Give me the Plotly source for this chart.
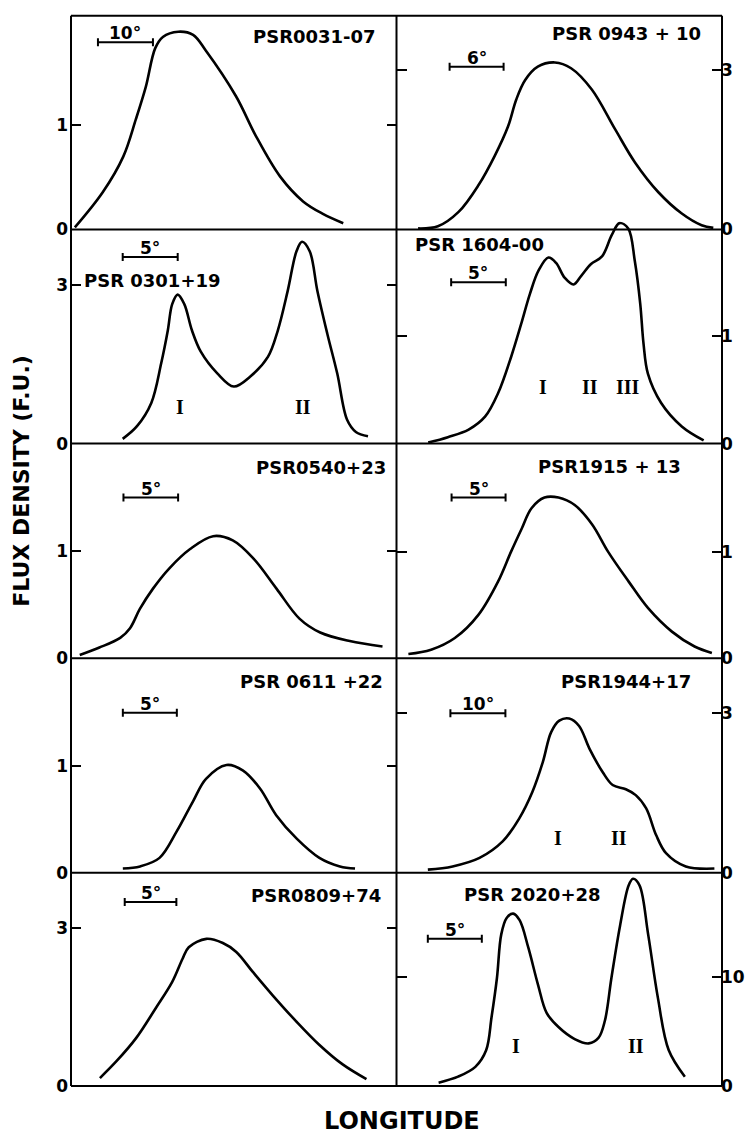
import plotly.graph_objects as go

# ---------------- data (longitude in degrees, flux density in F.U.) ----------------
names = ["PSR0031-07", "PSR 0943 + 10", "PSR 0301+19", "PSR 1604-00", "PSR0540+23",
         "PSR1915 + 13", "PSR 0611 +22", "PSR1944+17", "PSR0809+74", "PSR 2020+28"]

lon_0031 = [0.7, 5.8, 9.5, 11.8, 13.6, 15.3, 16.7, 19.5, 22.2, 24.5, 30.0, 33.6, 38.0, 42.2, 45.8, 49.5]
flux_0031 = [0.02, 0.36, 0.70, 1.06, 1.37, 1.74, 1.85, 1.90, 1.87, 1.72, 1.28, 0.90, 0.51, 0.27, 0.15, 0.06]

lon_0943 = [2.4, 4.6, 6.9, 9.1, 10.9, 12.4, 13.3, 14.3, 15.7, 17.6, 19.4, 21.7, 24.3, 26.5, 29.1, 31.7, 33.9, 35.2]
flux_0943 = [0.02, 0.06, 0.33, 0.83, 1.38, 1.94, 2.44, 2.81, 3.06, 3.14, 3.03, 2.63, 1.88, 1.26, 0.70, 0.30, 0.08, 0.03]

lon_0301 = [4.7, 6.0, 7.3, 8.2, 8.8, 9.2, 9.7, 10.3, 11.0, 11.8, 13.3, 14.8, 16.3, 17.9, 18.8, 19.7,
            20.5, 21.0, 21.7, 22.4, 23.3, 24.2, 25.1, 25.9, 27.0]
flux_0301 = [0.09, 0.33, 0.77, 1.52, 2.14, 2.64, 2.82, 2.64, 2.14, 1.74, 1.33, 1.08, 1.27, 1.64, 2.14, 2.89,
             3.64, 3.82, 3.64, 2.89, 2.08, 1.33, 0.45, 0.22, 0.14]

lon_1604 = [2.9, 4.7, 6.6, 8.1, 9.3, 10.5, 11.4, 12.2, 13.0, 13.9, 14.6, 15.4, 16.2, 16.9, 17.8, 18.8,
            19.7, 20.4, 21.2, 21.8, 22.3, 22.6, 23.0, 24.2, 26.1, 28.1]
flux_1604 = [0.01, 0.06, 0.13, 0.25, 0.47, 0.81, 1.11, 1.39, 1.61, 1.73, 1.68, 1.54, 1.48, 1.56, 1.67, 1.74,
             1.94, 2.05, 2.00, 1.70, 1.30, 0.93, 0.65, 0.38, 0.16, 0.03]

lon_0540 = [0.8, 2.6, 4.5, 5.4, 6.3, 7.5, 9.0, 10.9, 13.0, 14.8, 16.7, 18.8, 20.9, 22.8, 25.5, 28.5]
flux_0540 = [0.03, 0.10, 0.19, 0.28, 0.46, 0.65, 0.84, 1.02, 1.14, 1.10, 0.93, 0.65, 0.37, 0.24, 0.16, 0.11]

lon_1915 = [1.1, 3.2, 5.4, 7.6, 9.4, 10.6, 11.6, 12.5, 13.7, 15.0, 16.5, 18.1, 19.6, 21.5, 23.3, 25.5, 27.6, 29.2]
flux_1915 = [0.04, 0.08, 0.19, 0.41, 0.72, 1.00, 1.22, 1.41, 1.51, 1.51, 1.44, 1.26, 1.00, 0.72, 0.47, 0.25, 0.11, 0.05]

lon_0611 = [4.8, 6.4, 8.2, 9.8, 11.3, 12.5, 14.4, 15.9, 17.5, 19.0, 20.9, 23.0, 24.9, 26.3]
flux_0611 = [0.04, 0.06, 0.14, 0.39, 0.67, 0.88, 1.01, 0.96, 0.79, 0.54, 0.32, 0.14, 0.06, 0.04]

lon_1944 = [5.7, 10.2, 15.1, 19.3, 22.3, 24.7, 26.6, 28.1, 29.6, 31.4, 33.2, 35.1, 37.5, 39.3, 41.7, 43.5,
            45.4, 47.2, 49.0, 52.6, 57.8]
flux_1944 = [0.06, 0.12, 0.28, 0.59, 1.02, 1.52, 2.08, 2.64, 2.86, 2.90, 2.76, 2.33, 1.89, 1.65, 1.57, 1.46,
             1.21, 0.71, 0.37, 0.12, 0.08]

lon_0809 = [2.8, 4.4, 6.3, 8.2, 9.8, 10.8, 11.4, 13.1, 14.7, 16.0, 17.6, 19.5, 21.8, 24.0, 26.3, 28.6]
flux_0809 = [0.15, 0.47, 0.91, 1.48, 1.98, 2.42, 2.64, 2.80, 2.72, 2.55, 2.17, 1.73, 1.23, 0.79, 0.41, 0.13]

lon_2020 = [3.9, 5.7, 7.3, 8.3, 8.8, 9.3, 9.7, 10.2, 10.8, 11.4, 12.2, 13.1, 13.9, 15.0, 16.5, 17.8,
            18.7, 19.3, 19.9, 20.7, 21.5, 21.9, 22.5, 23.3, 24.2, 25.2, 26.7]
flux_2020 = [0.30, 0.85, 1.75, 3.27, 6.3, 9.9, 13.9, 15.4, 15.8, 15.2, 12.7, 9.3, 6.7, 5.4, 4.3, 3.9,
             4.4, 6.0, 9.9, 14.7, 18.4, 19.0, 18.4, 13.9, 8.1, 3.3, 0.85]

lons = [lon_0031, lon_0943, lon_0301, lon_1604, lon_0540, lon_1915, lon_0611, lon_1944, lon_0809, lon_2020]
fluxes = [flux_0031, flux_0943, flux_0301, flux_1604, flux_0540, flux_1915, flux_0611, flux_1944, flux_0809, flux_2020]

tick_values = [[0, 1], [0, 3], [0, 3], [0, 1], [0, 1], [0, 1], [0, 1], [0, 3], [0, 3], [0, 10]]
scale_deg = [10, 6, 5, 5, 5, 5, 5, 10, 5, 5]
components = [[], [], ["I", "II"], ["I", "II", "III"], [], [], [], ["I", "II"], [], ["I", "II"]]
component_lon = [[], [], [9.9, 21.1], [13.4, 17.7, 21.2], [], [], [], [29.3, 40.5], [], [11.1, 22.2]]
component_flux = [[], [], [0.70, 0.70], [0.53, 0.53, 0.53], [], [], [], [0.65, 0.65], [], [3.7, 3.7]]

# ---------------- layout geometry ----------------
W, H = 751, 1146
ROWS = [16, 231.5, 447.5, 664, 880.5, 1095.5]
COLS = [71, 396.5, 722]
EXT = 8  # allow curves to poke slightly above their box
px_per_deg = [5.5, 9, 11, 10.93, 10.93, 10.8, 10.8, 5.5, 10.33, 10.8]
px_per_unit = [105, 53.67, 53.3, 108.5, 108, 107.3, 107.7, 53.67, 53, 11]
bar_start = [4.9, 5.9, 4.7, 5.0, 4.8, 5.1, 4.8, 9.8, 5.2, 2.9]
bar_level = [1.80, 3.06, 3.53, 1.50, 1.50, 1.51, 1.50, 3.0, 3.50, 13.5]
# title placement (pixel x, pixel y, anchor)
title_pos = [(378, 37, "right"), (703, 34, "right"), (82, 283, "left"), (413, 247, "left"),
             (388, 472, "right"), (683, 471, "right"), (385, 688, "right"), (693, 688, "right"),
             (383, 903, "right"), (462, 902, "left")]

FONT = "DejaVu Sans"
SERIF = "Liberation Serif"

fig = go.Figure()
shapes = []
annotations = []
layout = {}

for i in range(10):
    r, c = divmod(i, 2)
    n = i + 1
    xa = "x" if n == 1 else f"x{n}"
    ya = "y" if n == 1 else f"y{n}"
    xkey = "xaxis" if n == 1 else f"xaxis{n}"
    ykey = "yaxis" if n == 1 else f"yaxis{n}"
    x0p, x1p = COLS[c], COLS[c + 1]
    yt, yb = ROWS[r], ROWS[r + 1]
    layout[xkey] = dict(domain=[x0p / W, x1p / W], range=[0, (x1p - x0p) / px_per_deg[i]],
                        anchor=ya, showgrid=False, zeroline=False, showline=False,
                        showticklabels=False, ticks="", fixedrange=True)
    layout[ykey] = dict(domain=[1 - yb / H, 1 - (yt - EXT) / H],
                        range=[0, (yb - yt + EXT) / px_per_unit[i]],
                        anchor=xa, side="left" if c == 0 else "right",
                        tickmode="array", tickvals=tick_values[i],
                        ticktext=[str(v) for v in tick_values[i]],
                        ticks="inside", ticklen=10, tickwidth=2, tickcolor="black",
                        mirror="ticks", showline=False, showgrid=False, zeroline=False,
                        ticklabelstandoff=2 if c == 0 else -2,
                        tickfont=dict(family=FONT, size=17, color="black", weight="bold"),
                        fixedrange=True)

    fig.add_trace(go.Scatter(x=lons[i], y=fluxes[i], mode="lines", xaxis=xa, yaxis=ya,
                             line=dict(color="black", width=2.6, shape="spline", smoothing=1.0),
                             showlegend=False, hoverinfo="skip"))

    # scale bar
    b0, b1 = bar_start[i], bar_start[i] + scale_deg[i]
    shapes.append(dict(type="line", xref=xa, yref=ya, x0=b0, x1=b1, y0=bar_level[i], y1=bar_level[i],
                       line=dict(color="black", width=2)))
    for bx in (b0, b1):
        shapes.append(dict(type="line", xref=xa, yref=ya, x0=bx, x1=bx, ysizemode="pixel",
                           yanchor=bar_level[i], y0=-4, y1=4, line=dict(color="black", width=2)))
    annotations.append(dict(text=f"{scale_deg[i]}°", x=(b0 + b1) / 2, y=bar_level[i], xref=xa, yref=ya,
                            showarrow=False, xanchor="center", yanchor="bottom", yshift=-3,
                            font=dict(family=FONT, size=17, color="black", weight="bold")))
    # components
    for lab, cx, cy in zip(components[i], component_lon[i], component_flux[i]):
        annotations.append(dict(text=lab, x=cx, y=cy, xref=xa, yref=ya, showarrow=False,
                                xanchor="center", yanchor="middle",
                                font=dict(family=SERIF, size=20, color="black", weight="bold")))
    # title
    tx, ty, anc = title_pos[i]
    annotations.append(dict(text=names[i], x=tx / W, y=1 - ty / H, xref="paper", yref="paper",
                            xanchor=anc, yanchor="middle", showarrow=False,
                            font=dict(family=FONT, size=18, color="black", weight="bold")))

# panel frame
for yy in ROWS:
    shapes.append(dict(type="line", xref="paper", yref="paper", x0=COLS[0] / W, x1=COLS[2] / W,
                       y0=1 - yy / H, y1=1 - yy / H, line=dict(color="black", width=2)))
for xx in COLS:
    shapes.append(dict(type="line", xref="paper", yref="paper", x0=xx / W, x1=xx / W,
                       y0=1 - ROWS[0] / H, y1=1 - ROWS[-1] / H, line=dict(color="black", width=2)))

annotations.append(dict(text="FLUX DENSITY (F.U.)", x=22 / W, y=1 - 485 / H, xref="paper", yref="paper",
                        xanchor="center", yanchor="middle", textangle=-90, showarrow=False,
                        font=dict(family=FONT, size=22, color="black", weight="bold")))
annotations.append(dict(text="LONGITUDE", x=402 / W, y=1 - 1131 / H, xref="paper", yref="paper",
                        xanchor="center", yanchor="middle", showarrow=False,
                        font=dict(family=FONT, size=24, color="black", weight="bold")))

fig.update_layout(width=W, height=H, autosize=False, margin=dict(l=0, r=0, t=0, b=0),
                  paper_bgcolor="white", plot_bgcolor="rgba(0,0,0,0)",
                  shapes=shapes, annotations=annotations, **layout)

fig.write_html("out.html", config={"displayModeBar": False},
               post_script="document.body.style.margin='0';")
